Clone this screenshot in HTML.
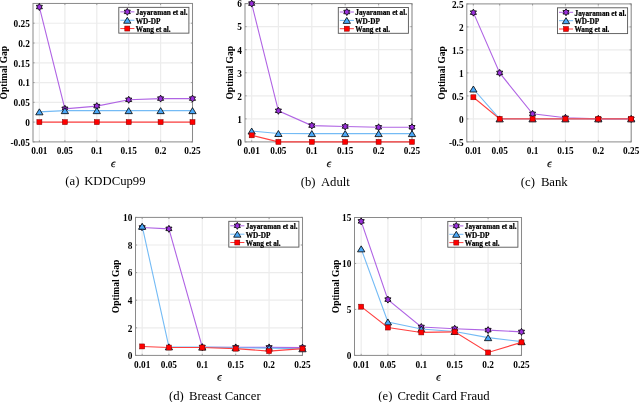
<!DOCTYPE html>
<html><head><meta charset="utf-8"><style>
html,body{margin:0;padding:0;background:#fff;}
body{width:640px;height:402px;overflow:hidden;}
svg{display:block;will-change:transform;}
text{font-family:"Liberation Serif",serif;fill:#000;}
.tk{font-size:9.3px;font-weight:bold;}
.lg{font-size:7.25px;font-weight:bold;stroke:#000;stroke-width:0.22px;}
.yl{font-size:9.5px;font-weight:bold;}
.eps{font-size:11px;font-style:italic;}
.cap{font-size:12.7px;}
</style></head><body>
<svg width="640" height="402" viewBox="0 0 640 402">
<rect width="640" height="402" fill="#fff"/>
<line x1="39.38" y1="3.45" x2="39.38" y2="141.9" stroke="#ececec" stroke-width="1.2"/>
<line x1="64.9" y1="3.45" x2="64.9" y2="141.9" stroke="#ececec" stroke-width="1.2"/>
<line x1="96.8" y1="3.45" x2="96.8" y2="141.9" stroke="#ececec" stroke-width="1.2"/>
<line x1="128.7" y1="3.45" x2="128.7" y2="141.9" stroke="#ececec" stroke-width="1.2"/>
<line x1="160.6" y1="3.45" x2="160.6" y2="141.9" stroke="#ececec" stroke-width="1.2"/>
<line x1="192.5" y1="3.45" x2="192.5" y2="141.9" stroke="#ececec" stroke-width="1.2"/>
<line x1="33" y1="122.12" x2="192.5" y2="122.12" stroke="#ececec" stroke-width="1.2"/>
<line x1="33" y1="102.34" x2="192.5" y2="102.34" stroke="#ececec" stroke-width="1.2"/>
<line x1="33" y1="82.56" x2="192.5" y2="82.56" stroke="#ececec" stroke-width="1.2"/>
<line x1="33" y1="62.79" x2="192.5" y2="62.79" stroke="#ececec" stroke-width="1.2"/>
<line x1="33" y1="43.01" x2="192.5" y2="43.01" stroke="#ececec" stroke-width="1.2"/>
<line x1="33" y1="23.23" x2="192.5" y2="23.23" stroke="#ececec" stroke-width="1.2"/>
<rect x="33" y="3.45" width="159.5" height="138.45" fill="none" stroke="#8a8a8a" stroke-width="1"/>
<path d="M39.38 141.9v-1.6M39.38 3.45v1.6" stroke="#8a8a8a" stroke-width="0.8"/>
<path d="M64.9 141.9v-1.6M64.9 3.45v1.6" stroke="#8a8a8a" stroke-width="0.8"/>
<path d="M96.8 141.9v-1.6M96.8 3.45v1.6" stroke="#8a8a8a" stroke-width="0.8"/>
<path d="M128.7 141.9v-1.6M128.7 3.45v1.6" stroke="#8a8a8a" stroke-width="0.8"/>
<path d="M160.6 141.9v-1.6M160.6 3.45v1.6" stroke="#8a8a8a" stroke-width="0.8"/>
<path d="M192.5 141.9v-1.6M192.5 3.45v1.6" stroke="#8a8a8a" stroke-width="0.8"/>
<path d="M33 141.9h1.6M192.5 141.9h-1.6" stroke="#8a8a8a" stroke-width="0.8"/>
<path d="M33 122.12h1.6M192.5 122.12h-1.6" stroke="#8a8a8a" stroke-width="0.8"/>
<path d="M33 102.34h1.6M192.5 102.34h-1.6" stroke="#8a8a8a" stroke-width="0.8"/>
<path d="M33 82.56h1.6M192.5 82.56h-1.6" stroke="#8a8a8a" stroke-width="0.8"/>
<path d="M33 62.79h1.6M192.5 62.79h-1.6" stroke="#8a8a8a" stroke-width="0.8"/>
<path d="M33 43.01h1.6M192.5 43.01h-1.6" stroke="#8a8a8a" stroke-width="0.8"/>
<path d="M33 23.23h1.6M192.5 23.23h-1.6" stroke="#8a8a8a" stroke-width="0.8"/>
<polyline points="39.38,7.01 64.9,108.79 96.8,106.1 128.7,99.77 160.6,98.62 192.5,98.62" fill="none" stroke="#b064e4" stroke-width="1.1"/>
<polygon points="39.38,3.51 40.39,5.26 42.41,5.26 41.4,7.01 42.41,8.76 40.39,8.76 39.38,10.51 38.37,8.76 36.35,8.76 37.36,7.01 36.35,5.26 38.37,5.26" fill="#9a2fdc" stroke="#000" stroke-width="0.85" stroke-linejoin="miter"/>
<polygon points="64.9,105.29 65.91,107.04 67.93,107.04 66.92,108.79 67.93,110.54 65.91,110.54 64.9,112.29 63.89,110.54 61.87,110.54 62.88,108.79 61.87,107.04 63.89,107.04" fill="#9a2fdc" stroke="#000" stroke-width="0.85" stroke-linejoin="miter"/>
<polygon points="96.8,102.6 97.81,104.35 99.83,104.35 98.82,106.1 99.83,107.85 97.81,107.85 96.8,109.6 95.79,107.85 93.77,107.85 94.78,106.1 93.77,104.35 95.79,104.35" fill="#9a2fdc" stroke="#000" stroke-width="0.85" stroke-linejoin="miter"/>
<polygon points="128.7,96.27 129.71,98.02 131.73,98.02 130.72,99.77 131.73,101.52 129.71,101.52 128.7,103.27 127.69,101.52 125.67,101.52 126.68,99.77 125.67,98.02 127.69,98.02" fill="#9a2fdc" stroke="#000" stroke-width="0.85" stroke-linejoin="miter"/>
<polygon points="160.6,95.12 161.61,96.87 163.63,96.87 162.62,98.62 163.63,100.37 161.61,100.37 160.6,102.12 159.59,100.37 157.57,100.37 158.58,98.62 157.57,96.87 159.59,96.87" fill="#9a2fdc" stroke="#000" stroke-width="0.85" stroke-linejoin="miter"/>
<polygon points="192.5,95.12 193.51,96.87 195.53,96.87 194.52,98.62 195.53,100.37 193.51,100.37 192.5,102.12 191.49,100.37 189.47,100.37 190.48,98.62 189.47,96.87 191.49,96.87" fill="#9a2fdc" stroke="#000" stroke-width="0.85" stroke-linejoin="miter"/>
<polyline points="39.38,111.84 64.9,110.65 96.8,110.65 128.7,110.65 160.6,110.65 192.5,110.65" fill="none" stroke="#74bbf5" stroke-width="1.1"/>
<polygon points="39.38,108.84 43.03,114.84 35.73,114.84" fill="#4aa8f8" stroke="#000" stroke-width="0.8" stroke-linejoin="miter"/>
<polygon points="64.9,107.65 68.55,113.65 61.25,113.65" fill="#4aa8f8" stroke="#000" stroke-width="0.8" stroke-linejoin="miter"/>
<polygon points="96.8,107.65 100.45,113.65 93.15,113.65" fill="#4aa8f8" stroke="#000" stroke-width="0.8" stroke-linejoin="miter"/>
<polygon points="128.7,107.65 132.35,113.65 125.05,113.65" fill="#4aa8f8" stroke="#000" stroke-width="0.8" stroke-linejoin="miter"/>
<polygon points="160.6,107.65 164.25,113.65 156.95,113.65" fill="#4aa8f8" stroke="#000" stroke-width="0.8" stroke-linejoin="miter"/>
<polygon points="192.5,107.65 196.15,113.65 188.85,113.65" fill="#4aa8f8" stroke="#000" stroke-width="0.8" stroke-linejoin="miter"/>
<polyline points="39.38,122.12 64.9,122.12 96.8,122.12 128.7,122.12 160.6,122.12 192.5,122.12" fill="none" stroke="#ff4040" stroke-width="1.1"/>
<rect x="36.88" y="119.62" width="5" height="5" fill="#ff0000" stroke="#7a0000" stroke-width="0.5"/>
<rect x="62.4" y="119.62" width="5" height="5" fill="#ff0000" stroke="#7a0000" stroke-width="0.5"/>
<rect x="94.3" y="119.62" width="5" height="5" fill="#ff0000" stroke="#7a0000" stroke-width="0.5"/>
<rect x="126.2" y="119.62" width="5" height="5" fill="#ff0000" stroke="#7a0000" stroke-width="0.5"/>
<rect x="158.1" y="119.62" width="5" height="5" fill="#ff0000" stroke="#7a0000" stroke-width="0.5"/>
<rect x="190" y="119.62" width="5" height="5" fill="#ff0000" stroke="#7a0000" stroke-width="0.5"/>
<text x="39.38" y="154.1" class="tk" text-anchor="middle">0.01</text>
<text x="64.9" y="154.1" class="tk" text-anchor="middle">0.05</text>
<text x="96.8" y="154.1" class="tk" text-anchor="middle">0.1</text>
<text x="128.7" y="154.1" class="tk" text-anchor="middle">0.15</text>
<text x="160.6" y="154.1" class="tk" text-anchor="middle">0.2</text>
<text x="192.5" y="154.1" class="tk" text-anchor="middle">0.25</text>
<text x="29.8" y="145.7" class="tk" text-anchor="end">-0.05</text>
<text x="29.8" y="125.92" class="tk" text-anchor="end">0</text>
<text x="29.8" y="106.14" class="tk" text-anchor="end">0.05</text>
<text x="29.8" y="86.36" class="tk" text-anchor="end">0.1</text>
<text x="29.8" y="66.59" class="tk" text-anchor="end">0.15</text>
<text x="29.8" y="46.81" class="tk" text-anchor="end">0.2</text>
<text x="29.8" y="27.03" class="tk" text-anchor="end">0.25</text>
<rect x="118.8" y="7.35" width="70.1" height="25.8" fill="#fff" stroke="#555" stroke-width="0.9"/>
<line x1="120.3" y1="11.85" x2="134.4" y2="11.85" stroke="#b064e4" stroke-width="1"/>
<polygon points="127.3,8.35 128.31,10.1 130.33,10.1 129.32,11.85 130.33,13.6 128.31,13.6 127.3,15.35 126.29,13.6 124.27,13.6 125.28,11.85 124.27,10.1 126.29,10.1" fill="#9a2fdc" stroke="#000" stroke-width="0.85" stroke-linejoin="miter"/>
<text x="135.8" y="15.15" class="lg">Jayaraman et al.</text>
<line x1="120.3" y1="20.25" x2="134.4" y2="20.25" stroke="#74bbf5" stroke-width="1"/>
<polygon points="127.3,17.25 130.95,23.25 123.65,23.25" fill="#4aa8f8" stroke="#000" stroke-width="0.8" stroke-linejoin="miter"/>
<text x="135.8" y="23.55" class="lg">WD-DP</text>
<line x1="120.3" y1="28.55" x2="134.4" y2="28.55" stroke="#ff4040" stroke-width="1"/>
<rect x="124.8" y="26.05" width="5" height="5" fill="#ff0000" stroke="#7a0000" stroke-width="0.5"/>
<text x="135.8" y="31.85" class="lg">Wang et al.</text>
<text transform="translate(6.6 72.67) rotate(-90)" class="yl" text-anchor="middle">Optimal Gap</text>
<path transform="translate(110.85 161.2)" d="M5.0,0.8C3.2,-0.3 0.3,1.0 0.2,3.9C0.1,5.9 2.4,6.6 4.3,5.5L4.1,5.1C2.8,5.8 1.4,5.3 1.5,3.9C1.6,1.9 3.3,0.8 4.8,1.3Z M1.45,3.0L4.2,3.0L4.1,3.6L1.45,3.6Z" fill="#1a1a1a"/>
<text x="65.3" y="185.4" class="cap">(a)</text>
<text x="84.2" y="185.4" class="cap">KDDCup99</text>
<line x1="251.68" y1="3.6" x2="251.68" y2="141.9" stroke="#ececec" stroke-width="1.2"/>
<line x1="278.4" y1="3.6" x2="278.4" y2="141.9" stroke="#ececec" stroke-width="1.2"/>
<line x1="311.8" y1="3.6" x2="311.8" y2="141.9" stroke="#ececec" stroke-width="1.2"/>
<line x1="345.2" y1="3.6" x2="345.2" y2="141.9" stroke="#ececec" stroke-width="1.2"/>
<line x1="378.6" y1="3.6" x2="378.6" y2="141.9" stroke="#ececec" stroke-width="1.2"/>
<line x1="412" y1="3.6" x2="412" y2="141.9" stroke="#ececec" stroke-width="1.2"/>
<line x1="245" y1="118.85" x2="412" y2="118.85" stroke="#ececec" stroke-width="1.2"/>
<line x1="245" y1="95.8" x2="412" y2="95.8" stroke="#ececec" stroke-width="1.2"/>
<line x1="245" y1="72.75" x2="412" y2="72.75" stroke="#ececec" stroke-width="1.2"/>
<line x1="245" y1="49.7" x2="412" y2="49.7" stroke="#ececec" stroke-width="1.2"/>
<line x1="245" y1="26.65" x2="412" y2="26.65" stroke="#ececec" stroke-width="1.2"/>
<rect x="245" y="3.6" width="167" height="138.3" fill="none" stroke="#8a8a8a" stroke-width="1"/>
<path d="M251.68 141.9v-1.6M251.68 3.6v1.6" stroke="#8a8a8a" stroke-width="0.8"/>
<path d="M278.4 141.9v-1.6M278.4 3.6v1.6" stroke="#8a8a8a" stroke-width="0.8"/>
<path d="M311.8 141.9v-1.6M311.8 3.6v1.6" stroke="#8a8a8a" stroke-width="0.8"/>
<path d="M345.2 141.9v-1.6M345.2 3.6v1.6" stroke="#8a8a8a" stroke-width="0.8"/>
<path d="M378.6 141.9v-1.6M378.6 3.6v1.6" stroke="#8a8a8a" stroke-width="0.8"/>
<path d="M412 141.9v-1.6M412 3.6v1.6" stroke="#8a8a8a" stroke-width="0.8"/>
<path d="M245 141.9h1.6M412 141.9h-1.6" stroke="#8a8a8a" stroke-width="0.8"/>
<path d="M245 118.85h1.6M412 118.85h-1.6" stroke="#8a8a8a" stroke-width="0.8"/>
<path d="M245 95.8h1.6M412 95.8h-1.6" stroke="#8a8a8a" stroke-width="0.8"/>
<path d="M245 72.75h1.6M412 72.75h-1.6" stroke="#8a8a8a" stroke-width="0.8"/>
<path d="M245 49.7h1.6M412 49.7h-1.6" stroke="#8a8a8a" stroke-width="0.8"/>
<path d="M245 26.65h1.6M412 26.65h-1.6" stroke="#8a8a8a" stroke-width="0.8"/>
<path d="M245 3.6h1.6M412 3.6h-1.6" stroke="#8a8a8a" stroke-width="0.8"/>
<polyline points="251.68,3.6 278.4,110.78 311.8,125.6 345.2,126.5 378.6,127.31 412,127.26" fill="none" stroke="#b064e4" stroke-width="1.1"/>
<polygon points="251.68,0.1 252.69,1.85 254.71,1.85 253.7,3.6 254.71,5.35 252.69,5.35 251.68,7.1 250.67,5.35 248.65,5.35 249.66,3.6 248.65,1.85 250.67,1.85" fill="#9a2fdc" stroke="#000" stroke-width="0.85" stroke-linejoin="miter"/>
<polygon points="278.4,107.28 279.41,109.03 281.43,109.03 280.42,110.78 281.43,112.53 279.41,112.53 278.4,114.28 277.39,112.53 275.37,112.53 276.38,110.78 275.37,109.03 277.39,109.03" fill="#9a2fdc" stroke="#000" stroke-width="0.85" stroke-linejoin="miter"/>
<polygon points="311.8,122.1 312.81,123.85 314.83,123.85 313.82,125.6 314.83,127.35 312.81,127.35 311.8,129.1 310.79,127.35 308.77,127.35 309.78,125.6 308.77,123.85 310.79,123.85" fill="#9a2fdc" stroke="#000" stroke-width="0.85" stroke-linejoin="miter"/>
<polygon points="345.2,123 346.21,124.75 348.23,124.75 347.22,126.5 348.23,128.25 346.21,128.25 345.2,130 344.19,128.25 342.17,128.25 343.18,126.5 342.17,124.75 344.19,124.75" fill="#9a2fdc" stroke="#000" stroke-width="0.85" stroke-linejoin="miter"/>
<polygon points="378.6,123.81 379.61,125.56 381.63,125.56 380.62,127.31 381.63,129.06 379.61,129.06 378.6,130.81 377.59,129.06 375.57,129.06 376.58,127.31 375.57,125.56 377.59,125.56" fill="#9a2fdc" stroke="#000" stroke-width="0.85" stroke-linejoin="miter"/>
<polygon points="412,123.76 413.01,125.51 415.03,125.51 414.02,127.26 415.03,129.01 413.01,129.01 412,130.76 410.99,129.01 408.97,129.01 409.98,127.26 408.97,125.51 410.99,125.51" fill="#9a2fdc" stroke="#000" stroke-width="0.85" stroke-linejoin="miter"/>
<polyline points="251.68,131.07 278.4,133.51 311.8,133.6 345.2,133.6 378.6,133.6 412,133.6" fill="none" stroke="#74bbf5" stroke-width="1.1"/>
<polygon points="251.68,128.07 255.33,134.07 248.03,134.07" fill="#4aa8f8" stroke="#000" stroke-width="0.8" stroke-linejoin="miter"/>
<polygon points="278.4,130.51 282.05,136.51 274.75,136.51" fill="#4aa8f8" stroke="#000" stroke-width="0.8" stroke-linejoin="miter"/>
<polygon points="311.8,130.6 315.45,136.6 308.15,136.6" fill="#4aa8f8" stroke="#000" stroke-width="0.8" stroke-linejoin="miter"/>
<polygon points="345.2,130.6 348.85,136.6 341.55,136.6" fill="#4aa8f8" stroke="#000" stroke-width="0.8" stroke-linejoin="miter"/>
<polygon points="378.6,130.6 382.25,136.6 374.95,136.6" fill="#4aa8f8" stroke="#000" stroke-width="0.8" stroke-linejoin="miter"/>
<polygon points="412,130.6 415.65,136.6 408.35,136.6" fill="#4aa8f8" stroke="#000" stroke-width="0.8" stroke-linejoin="miter"/>
<polyline points="251.68,135.31 278.4,141.9 311.8,141.9 345.2,141.9 378.6,141.9 412,141.9" fill="none" stroke="#ff4040" stroke-width="1.1"/>
<rect x="249.18" y="132.81" width="5" height="5" fill="#ff0000" stroke="#7a0000" stroke-width="0.5"/>
<rect x="275.9" y="139.4" width="5" height="5" fill="#ff0000" stroke="#7a0000" stroke-width="0.5"/>
<rect x="309.3" y="139.4" width="5" height="5" fill="#ff0000" stroke="#7a0000" stroke-width="0.5"/>
<rect x="342.7" y="139.4" width="5" height="5" fill="#ff0000" stroke="#7a0000" stroke-width="0.5"/>
<rect x="376.1" y="139.4" width="5" height="5" fill="#ff0000" stroke="#7a0000" stroke-width="0.5"/>
<rect x="409.5" y="139.4" width="5" height="5" fill="#ff0000" stroke="#7a0000" stroke-width="0.5"/>
<text x="251.68" y="154.1" class="tk" text-anchor="middle">0.01</text>
<text x="278.4" y="154.1" class="tk" text-anchor="middle">0.05</text>
<text x="311.8" y="154.1" class="tk" text-anchor="middle">0.1</text>
<text x="345.2" y="154.1" class="tk" text-anchor="middle">0.15</text>
<text x="378.6" y="154.1" class="tk" text-anchor="middle">0.2</text>
<text x="412" y="154.1" class="tk" text-anchor="middle">0.25</text>
<text x="241.8" y="145.7" class="tk" text-anchor="end">0</text>
<text x="241.8" y="122.65" class="tk" text-anchor="end">1</text>
<text x="241.8" y="99.6" class="tk" text-anchor="end">2</text>
<text x="241.8" y="76.55" class="tk" text-anchor="end">3</text>
<text x="241.8" y="53.5" class="tk" text-anchor="end">4</text>
<text x="241.8" y="30.45" class="tk" text-anchor="end">5</text>
<text x="241.8" y="7.4" class="tk" text-anchor="end">6</text>
<rect x="338.3" y="7.5" width="70.1" height="25.8" fill="#fff" stroke="#555" stroke-width="0.9"/>
<line x1="339.8" y1="12" x2="353.9" y2="12" stroke="#b064e4" stroke-width="1"/>
<polygon points="346.8,8.5 347.81,10.25 349.83,10.25 348.82,12 349.83,13.75 347.81,13.75 346.8,15.5 345.79,13.75 343.77,13.75 344.78,12 343.77,10.25 345.79,10.25" fill="#9a2fdc" stroke="#000" stroke-width="0.85" stroke-linejoin="miter"/>
<text x="355.3" y="15.3" class="lg">Jayaraman et al.</text>
<line x1="339.8" y1="20.4" x2="353.9" y2="20.4" stroke="#74bbf5" stroke-width="1"/>
<polygon points="346.8,17.4 350.45,23.4 343.15,23.4" fill="#4aa8f8" stroke="#000" stroke-width="0.8" stroke-linejoin="miter"/>
<text x="355.3" y="23.7" class="lg">WD-DP</text>
<line x1="339.8" y1="28.7" x2="353.9" y2="28.7" stroke="#ff4040" stroke-width="1"/>
<rect x="344.3" y="26.2" width="5" height="5" fill="#ff0000" stroke="#7a0000" stroke-width="0.5"/>
<text x="355.3" y="32" class="lg">Wang et al.</text>
<text transform="translate(233.1 72.75) rotate(-90)" class="yl" text-anchor="middle">Optimal Gap</text>
<path transform="translate(326.6 161.2)" d="M5.0,0.8C3.2,-0.3 0.3,1.0 0.2,3.9C0.1,5.9 2.4,6.6 4.3,5.5L4.1,5.1C2.8,5.8 1.4,5.3 1.5,3.9C1.6,1.9 3.3,0.8 4.8,1.3Z M1.45,3.0L4.2,3.0L4.1,3.6L1.45,3.6Z" fill="#1a1a1a"/>
<text x="300.8" y="185.6" class="cap">(b)</text>
<text x="320.9" y="185.6" class="cap">Adult</text>
<line x1="473.38" y1="3.9" x2="473.38" y2="141.9" stroke="#ececec" stroke-width="1.2"/>
<line x1="499.68" y1="3.9" x2="499.68" y2="141.9" stroke="#ececec" stroke-width="1.2"/>
<line x1="532.56" y1="3.9" x2="532.56" y2="141.9" stroke="#ececec" stroke-width="1.2"/>
<line x1="565.44" y1="3.9" x2="565.44" y2="141.9" stroke="#ececec" stroke-width="1.2"/>
<line x1="598.32" y1="3.9" x2="598.32" y2="141.9" stroke="#ececec" stroke-width="1.2"/>
<line x1="631.2" y1="3.9" x2="631.2" y2="141.9" stroke="#ececec" stroke-width="1.2"/>
<line x1="466.8" y1="118.9" x2="631.2" y2="118.9" stroke="#ececec" stroke-width="1.2"/>
<line x1="466.8" y1="95.9" x2="631.2" y2="95.9" stroke="#ececec" stroke-width="1.2"/>
<line x1="466.8" y1="72.9" x2="631.2" y2="72.9" stroke="#ececec" stroke-width="1.2"/>
<line x1="466.8" y1="49.9" x2="631.2" y2="49.9" stroke="#ececec" stroke-width="1.2"/>
<line x1="466.8" y1="26.9" x2="631.2" y2="26.9" stroke="#ececec" stroke-width="1.2"/>
<rect x="466.8" y="3.9" width="164.4" height="138" fill="none" stroke="#8a8a8a" stroke-width="1"/>
<path d="M473.38 141.9v-1.6M473.38 3.9v1.6" stroke="#8a8a8a" stroke-width="0.8"/>
<path d="M499.68 141.9v-1.6M499.68 3.9v1.6" stroke="#8a8a8a" stroke-width="0.8"/>
<path d="M532.56 141.9v-1.6M532.56 3.9v1.6" stroke="#8a8a8a" stroke-width="0.8"/>
<path d="M565.44 141.9v-1.6M565.44 3.9v1.6" stroke="#8a8a8a" stroke-width="0.8"/>
<path d="M598.32 141.9v-1.6M598.32 3.9v1.6" stroke="#8a8a8a" stroke-width="0.8"/>
<path d="M631.2 141.9v-1.6M631.2 3.9v1.6" stroke="#8a8a8a" stroke-width="0.8"/>
<path d="M466.8 141.9h1.6M631.2 141.9h-1.6" stroke="#8a8a8a" stroke-width="0.8"/>
<path d="M466.8 118.9h1.6M631.2 118.9h-1.6" stroke="#8a8a8a" stroke-width="0.8"/>
<path d="M466.8 95.9h1.6M631.2 95.9h-1.6" stroke="#8a8a8a" stroke-width="0.8"/>
<path d="M466.8 72.9h1.6M631.2 72.9h-1.6" stroke="#8a8a8a" stroke-width="0.8"/>
<path d="M466.8 49.9h1.6M631.2 49.9h-1.6" stroke="#8a8a8a" stroke-width="0.8"/>
<path d="M466.8 26.9h1.6M631.2 26.9h-1.6" stroke="#8a8a8a" stroke-width="0.8"/>
<path d="M466.8 3.9h1.6M631.2 3.9h-1.6" stroke="#8a8a8a" stroke-width="0.8"/>
<polyline points="473.38,12.64 499.68,72.9 532.56,113.84 565.44,117.8 598.32,118.9 631.2,118.9" fill="none" stroke="#b064e4" stroke-width="1.1"/>
<polygon points="473.38,9.14 474.39,10.89 476.41,10.89 475.4,12.64 476.41,14.39 474.39,14.39 473.38,16.14 472.37,14.39 470.34,14.39 471.36,12.64 470.34,10.89 472.37,10.89" fill="#9a2fdc" stroke="#000" stroke-width="0.85" stroke-linejoin="miter"/>
<polygon points="499.68,69.4 500.69,71.15 502.71,71.15 501.7,72.9 502.71,74.65 500.69,74.65 499.68,76.4 498.67,74.65 496.65,74.65 497.66,72.9 496.65,71.15 498.67,71.15" fill="#9a2fdc" stroke="#000" stroke-width="0.85" stroke-linejoin="miter"/>
<polygon points="532.56,110.34 533.57,112.09 535.59,112.09 534.58,113.84 535.59,115.59 533.57,115.59 532.56,117.34 531.55,115.59 529.53,115.59 530.54,113.84 529.53,112.09 531.55,112.09" fill="#9a2fdc" stroke="#000" stroke-width="0.85" stroke-linejoin="miter"/>
<polygon points="565.44,114.3 566.45,116.05 568.47,116.05 567.46,117.8 568.47,119.55 566.45,119.55 565.44,121.3 564.43,119.55 562.41,119.55 563.42,117.8 562.41,116.05 564.43,116.05" fill="#9a2fdc" stroke="#000" stroke-width="0.85" stroke-linejoin="miter"/>
<polygon points="598.32,115.4 599.33,117.15 601.35,117.15 600.34,118.9 601.35,120.65 599.33,120.65 598.32,122.4 597.31,120.65 595.29,120.65 596.3,118.9 595.29,117.15 597.31,117.15" fill="#9a2fdc" stroke="#000" stroke-width="0.85" stroke-linejoin="miter"/>
<polygon points="631.2,115.4 632.21,117.15 634.23,117.15 633.22,118.9 634.23,120.65 632.21,120.65 631.2,122.4 630.19,120.65 628.17,120.65 629.18,118.9 628.17,117.15 630.19,117.15" fill="#9a2fdc" stroke="#000" stroke-width="0.85" stroke-linejoin="miter"/>
<polyline points="473.38,89 499.68,118.9 532.56,118.9 565.44,118.9 598.32,118.9 631.2,118.9" fill="none" stroke="#74bbf5" stroke-width="1.1"/>
<polygon points="473.38,86 477.03,92 469.73,92" fill="#4aa8f8" stroke="#000" stroke-width="0.8" stroke-linejoin="miter"/>
<polygon points="499.68,115.9 503.33,121.9 496.03,121.9" fill="#4aa8f8" stroke="#000" stroke-width="0.8" stroke-linejoin="miter"/>
<polygon points="532.56,115.9 536.21,121.9 528.91,121.9" fill="#4aa8f8" stroke="#000" stroke-width="0.8" stroke-linejoin="miter"/>
<polygon points="565.44,115.9 569.09,121.9 561.79,121.9" fill="#4aa8f8" stroke="#000" stroke-width="0.8" stroke-linejoin="miter"/>
<polygon points="598.32,115.9 601.97,121.9 594.67,121.9" fill="#4aa8f8" stroke="#000" stroke-width="0.8" stroke-linejoin="miter"/>
<polygon points="631.2,115.9 634.85,121.9 627.55,121.9" fill="#4aa8f8" stroke="#000" stroke-width="0.8" stroke-linejoin="miter"/>
<polyline points="473.38,97.28 499.68,118.9 532.56,118.9 565.44,118.9 598.32,118.9 631.2,118.9" fill="none" stroke="#ff4040" stroke-width="1.1"/>
<rect x="470.88" y="94.78" width="5" height="5" fill="#ff0000" stroke="#7a0000" stroke-width="0.5"/>
<rect x="497.18" y="116.4" width="5" height="5" fill="#ff0000" stroke="#7a0000" stroke-width="0.5"/>
<rect x="530.06" y="116.4" width="5" height="5" fill="#ff0000" stroke="#7a0000" stroke-width="0.5"/>
<rect x="562.94" y="116.4" width="5" height="5" fill="#ff0000" stroke="#7a0000" stroke-width="0.5"/>
<rect x="595.82" y="116.4" width="5" height="5" fill="#ff0000" stroke="#7a0000" stroke-width="0.5"/>
<rect x="628.7" y="116.4" width="5" height="5" fill="#ff0000" stroke="#7a0000" stroke-width="0.5"/>
<text x="473.38" y="154.1" class="tk" text-anchor="middle">0.01</text>
<text x="499.68" y="154.1" class="tk" text-anchor="middle">0.05</text>
<text x="532.56" y="154.1" class="tk" text-anchor="middle">0.1</text>
<text x="565.44" y="154.1" class="tk" text-anchor="middle">0.15</text>
<text x="598.32" y="154.1" class="tk" text-anchor="middle">0.2</text>
<text x="631.2" y="154.1" class="tk" text-anchor="middle">0.25</text>
<text x="463.6" y="145.7" class="tk" text-anchor="end">-0.5</text>
<text x="463.6" y="122.7" class="tk" text-anchor="end">0</text>
<text x="463.6" y="99.7" class="tk" text-anchor="end">0.5</text>
<text x="463.6" y="76.7" class="tk" text-anchor="end">1</text>
<text x="463.6" y="53.7" class="tk" text-anchor="end">1.5</text>
<text x="463.6" y="30.7" class="tk" text-anchor="end">2</text>
<text x="463.6" y="7.7" class="tk" text-anchor="end">2.5</text>
<rect x="557.5" y="7.8" width="70.1" height="25.8" fill="#fff" stroke="#555" stroke-width="0.9"/>
<line x1="559" y1="12.3" x2="573.1" y2="12.3" stroke="#b064e4" stroke-width="1"/>
<polygon points="566,8.8 567.01,10.55 569.03,10.55 568.02,12.3 569.03,14.05 567.01,14.05 566,15.8 564.99,14.05 562.97,14.05 563.98,12.3 562.97,10.55 564.99,10.55" fill="#9a2fdc" stroke="#000" stroke-width="0.85" stroke-linejoin="miter"/>
<text x="574.5" y="15.6" class="lg">Jayaraman et al.</text>
<line x1="559" y1="20.7" x2="573.1" y2="20.7" stroke="#74bbf5" stroke-width="1"/>
<polygon points="566,17.7 569.65,23.7 562.35,23.7" fill="#4aa8f8" stroke="#000" stroke-width="0.8" stroke-linejoin="miter"/>
<text x="574.5" y="24" class="lg">WD-DP</text>
<line x1="559" y1="29" x2="573.1" y2="29" stroke="#ff4040" stroke-width="1"/>
<rect x="563.5" y="26.5" width="5" height="5" fill="#ff0000" stroke="#7a0000" stroke-width="0.5"/>
<text x="574.5" y="32.3" class="lg">Wang et al.</text>
<text transform="translate(445.3 72.9) rotate(-90)" class="yl" text-anchor="middle">Optimal Gap</text>
<path transform="translate(547.1 161.2)" d="M5.0,0.8C3.2,-0.3 0.3,1.0 0.2,3.9C0.1,5.9 2.4,6.6 4.3,5.5L4.1,5.1C2.8,5.8 1.4,5.3 1.5,3.9C1.6,1.9 3.3,0.8 4.8,1.3Z M1.45,3.0L4.2,3.0L4.1,3.6L1.45,3.6Z" fill="#1a1a1a"/>
<text x="520.8" y="185.6" class="cap">(c)</text>
<text x="540.9" y="185.6" class="cap">Bank</text>
<line x1="142.18" y1="217.4" x2="142.18" y2="355.4" stroke="#ececec" stroke-width="1.2"/>
<line x1="168.9" y1="217.4" x2="168.9" y2="355.4" stroke="#ececec" stroke-width="1.2"/>
<line x1="202.3" y1="217.4" x2="202.3" y2="355.4" stroke="#ececec" stroke-width="1.2"/>
<line x1="235.7" y1="217.4" x2="235.7" y2="355.4" stroke="#ececec" stroke-width="1.2"/>
<line x1="269.1" y1="217.4" x2="269.1" y2="355.4" stroke="#ececec" stroke-width="1.2"/>
<line x1="302.5" y1="217.4" x2="302.5" y2="355.4" stroke="#ececec" stroke-width="1.2"/>
<line x1="135.5" y1="327.8" x2="302.5" y2="327.8" stroke="#ececec" stroke-width="1.2"/>
<line x1="135.5" y1="300.2" x2="302.5" y2="300.2" stroke="#ececec" stroke-width="1.2"/>
<line x1="135.5" y1="272.6" x2="302.5" y2="272.6" stroke="#ececec" stroke-width="1.2"/>
<line x1="135.5" y1="245" x2="302.5" y2="245" stroke="#ececec" stroke-width="1.2"/>
<rect x="135.5" y="217.4" width="167" height="138" fill="none" stroke="#8a8a8a" stroke-width="1"/>
<path d="M142.18 355.4v-1.6M142.18 217.4v1.6" stroke="#8a8a8a" stroke-width="0.8"/>
<path d="M168.9 355.4v-1.6M168.9 217.4v1.6" stroke="#8a8a8a" stroke-width="0.8"/>
<path d="M202.3 355.4v-1.6M202.3 217.4v1.6" stroke="#8a8a8a" stroke-width="0.8"/>
<path d="M235.7 355.4v-1.6M235.7 217.4v1.6" stroke="#8a8a8a" stroke-width="0.8"/>
<path d="M269.1 355.4v-1.6M269.1 217.4v1.6" stroke="#8a8a8a" stroke-width="0.8"/>
<path d="M302.5 355.4v-1.6M302.5 217.4v1.6" stroke="#8a8a8a" stroke-width="0.8"/>
<path d="M135.5 355.4h1.6M302.5 355.4h-1.6" stroke="#8a8a8a" stroke-width="0.8"/>
<path d="M135.5 327.8h1.6M302.5 327.8h-1.6" stroke="#8a8a8a" stroke-width="0.8"/>
<path d="M135.5 300.2h1.6M302.5 300.2h-1.6" stroke="#8a8a8a" stroke-width="0.8"/>
<path d="M135.5 272.6h1.6M302.5 272.6h-1.6" stroke="#8a8a8a" stroke-width="0.8"/>
<path d="M135.5 245h1.6M302.5 245h-1.6" stroke="#8a8a8a" stroke-width="0.8"/>
<path d="M135.5 217.4h1.6M302.5 217.4h-1.6" stroke="#8a8a8a" stroke-width="0.8"/>
<polyline points="142.18,227.47 168.9,228.85 202.3,347.12 235.7,347.4 269.1,347.4 302.5,347.53" fill="none" stroke="#b064e4" stroke-width="1.1"/>
<polygon points="142.18,223.97 143.19,225.72 145.21,225.72 144.2,227.47 145.21,229.22 143.19,229.22 142.18,230.97 141.17,229.22 139.15,229.22 140.16,227.47 139.15,225.72 141.17,225.72" fill="#9a2fdc" stroke="#000" stroke-width="0.85" stroke-linejoin="miter"/>
<polygon points="168.9,225.35 169.91,227.1 171.93,227.1 170.92,228.85 171.93,230.6 169.91,230.6 168.9,232.35 167.89,230.6 165.87,230.6 166.88,228.85 165.87,227.1 167.89,227.1" fill="#9a2fdc" stroke="#000" stroke-width="0.85" stroke-linejoin="miter"/>
<polygon points="202.3,343.62 203.31,345.37 205.33,345.37 204.32,347.12 205.33,348.87 203.31,348.87 202.3,350.62 201.29,348.87 199.27,348.87 200.28,347.12 199.27,345.37 201.29,345.37" fill="#9a2fdc" stroke="#000" stroke-width="0.85" stroke-linejoin="miter"/>
<polygon points="235.7,343.9 236.71,345.65 238.73,345.65 237.72,347.4 238.73,349.15 236.71,349.15 235.7,350.9 234.69,349.15 232.67,349.15 233.68,347.4 232.67,345.65 234.69,345.65" fill="#9a2fdc" stroke="#000" stroke-width="0.85" stroke-linejoin="miter"/>
<polygon points="269.1,343.9 270.11,345.65 272.13,345.65 271.12,347.4 272.13,349.15 270.11,349.15 269.1,350.9 268.09,349.15 266.07,349.15 267.08,347.4 266.07,345.65 268.09,345.65" fill="#9a2fdc" stroke="#000" stroke-width="0.85" stroke-linejoin="miter"/>
<polygon points="302.5,344.03 303.51,345.78 305.53,345.78 304.52,347.53 305.53,349.28 303.51,349.28 302.5,351.03 301.49,349.28 299.47,349.28 300.48,347.53 299.47,345.78 301.49,345.78" fill="#9a2fdc" stroke="#000" stroke-width="0.85" stroke-linejoin="miter"/>
<polyline points="142.18,226.23 168.9,346.84 202.3,347.12 235.7,347.67 269.1,348.09 302.5,348.78" fill="none" stroke="#74bbf5" stroke-width="1.1"/>
<polygon points="142.18,223.23 145.83,229.23 138.53,229.23" fill="#4aa8f8" stroke="#000" stroke-width="0.8" stroke-linejoin="miter"/>
<polygon points="168.9,343.84 172.55,349.84 165.25,349.84" fill="#4aa8f8" stroke="#000" stroke-width="0.8" stroke-linejoin="miter"/>
<polygon points="202.3,344.12 205.95,350.12 198.65,350.12" fill="#4aa8f8" stroke="#000" stroke-width="0.8" stroke-linejoin="miter"/>
<polygon points="235.7,344.67 239.35,350.67 232.05,350.67" fill="#4aa8f8" stroke="#000" stroke-width="0.8" stroke-linejoin="miter"/>
<polygon points="269.1,345.09 272.75,351.09 265.45,351.09" fill="#4aa8f8" stroke="#000" stroke-width="0.8" stroke-linejoin="miter"/>
<polygon points="302.5,345.78 306.15,351.78 298.85,351.78" fill="#4aa8f8" stroke="#000" stroke-width="0.8" stroke-linejoin="miter"/>
<polyline points="142.18,346.43 168.9,347.53 202.3,347.53 235.7,348.64 269.1,351.12 302.5,348.64" fill="none" stroke="#ff4040" stroke-width="1.1"/>
<rect x="139.68" y="343.93" width="5" height="5" fill="#ff0000" stroke="#7a0000" stroke-width="0.5"/>
<rect x="166.4" y="345.03" width="5" height="5" fill="#ff0000" stroke="#7a0000" stroke-width="0.5"/>
<rect x="199.8" y="345.03" width="5" height="5" fill="#ff0000" stroke="#7a0000" stroke-width="0.5"/>
<rect x="233.2" y="346.14" width="5" height="5" fill="#ff0000" stroke="#7a0000" stroke-width="0.5"/>
<rect x="266.6" y="348.62" width="5" height="5" fill="#ff0000" stroke="#7a0000" stroke-width="0.5"/>
<rect x="300" y="346.14" width="5" height="5" fill="#ff0000" stroke="#7a0000" stroke-width="0.5"/>
<text x="142.18" y="367.6" class="tk" text-anchor="middle">0.01</text>
<text x="168.9" y="367.6" class="tk" text-anchor="middle">0.05</text>
<text x="202.3" y="367.6" class="tk" text-anchor="middle">0.1</text>
<text x="235.7" y="367.6" class="tk" text-anchor="middle">0.15</text>
<text x="269.1" y="367.6" class="tk" text-anchor="middle">0.2</text>
<text x="302.5" y="367.6" class="tk" text-anchor="middle">0.25</text>
<text x="132.3" y="359.2" class="tk" text-anchor="end">0</text>
<text x="132.3" y="331.6" class="tk" text-anchor="end">2</text>
<text x="132.3" y="304" class="tk" text-anchor="end">4</text>
<text x="132.3" y="276.4" class="tk" text-anchor="end">6</text>
<text x="132.3" y="248.8" class="tk" text-anchor="end">8</text>
<text x="132.3" y="221.2" class="tk" text-anchor="end">10</text>
<rect x="228.8" y="221.3" width="70.1" height="25.8" fill="#fff" stroke="#555" stroke-width="0.9"/>
<line x1="230.3" y1="225.8" x2="244.4" y2="225.8" stroke="#b064e4" stroke-width="1"/>
<polygon points="237.3,222.3 238.31,224.05 240.33,224.05 239.32,225.8 240.33,227.55 238.31,227.55 237.3,229.3 236.29,227.55 234.27,227.55 235.28,225.8 234.27,224.05 236.29,224.05" fill="#9a2fdc" stroke="#000" stroke-width="0.85" stroke-linejoin="miter"/>
<text x="245.8" y="229.1" class="lg">Jayaraman et al.</text>
<line x1="230.3" y1="234.2" x2="244.4" y2="234.2" stroke="#74bbf5" stroke-width="1"/>
<polygon points="237.3,231.2 240.95,237.2 233.65,237.2" fill="#4aa8f8" stroke="#000" stroke-width="0.8" stroke-linejoin="miter"/>
<text x="245.8" y="237.5" class="lg">WD-DP</text>
<line x1="230.3" y1="242.5" x2="244.4" y2="242.5" stroke="#ff4040" stroke-width="1"/>
<rect x="234.8" y="240" width="5" height="5" fill="#ff0000" stroke="#7a0000" stroke-width="0.5"/>
<text x="245.8" y="245.8" class="lg">Wang et al.</text>
<text transform="translate(119.4 286.4) rotate(-90)" class="yl" text-anchor="middle">Optimal Gap</text>
<path transform="translate(217.1 374.7)" d="M5.0,0.8C3.2,-0.3 0.3,1.0 0.2,3.9C0.1,5.9 2.4,6.6 4.3,5.5L4.1,5.1C2.8,5.8 1.4,5.3 1.5,3.9C1.6,1.9 3.3,0.8 4.8,1.3Z M1.45,3.0L4.2,3.0L4.1,3.6L1.45,3.6Z" fill="#1a1a1a"/>
<text x="169" y="399.8" class="cap">(d)</text>
<text x="189.1" y="399.8" class="cap">Breast Cancer</text>
<line x1="361.18" y1="217.5" x2="361.18" y2="355.4" stroke="#ececec" stroke-width="1.2"/>
<line x1="387.9" y1="217.5" x2="387.9" y2="355.4" stroke="#ececec" stroke-width="1.2"/>
<line x1="421.3" y1="217.5" x2="421.3" y2="355.4" stroke="#ececec" stroke-width="1.2"/>
<line x1="454.7" y1="217.5" x2="454.7" y2="355.4" stroke="#ececec" stroke-width="1.2"/>
<line x1="488.1" y1="217.5" x2="488.1" y2="355.4" stroke="#ececec" stroke-width="1.2"/>
<line x1="521.5" y1="217.5" x2="521.5" y2="355.4" stroke="#ececec" stroke-width="1.2"/>
<line x1="354.5" y1="309.43" x2="521.5" y2="309.43" stroke="#ececec" stroke-width="1.2"/>
<line x1="354.5" y1="263.47" x2="521.5" y2="263.47" stroke="#ececec" stroke-width="1.2"/>
<rect x="354.5" y="217.5" width="167" height="137.9" fill="none" stroke="#8a8a8a" stroke-width="1"/>
<path d="M361.18 355.4v-1.6M361.18 217.5v1.6" stroke="#8a8a8a" stroke-width="0.8"/>
<path d="M387.9 355.4v-1.6M387.9 217.5v1.6" stroke="#8a8a8a" stroke-width="0.8"/>
<path d="M421.3 355.4v-1.6M421.3 217.5v1.6" stroke="#8a8a8a" stroke-width="0.8"/>
<path d="M454.7 355.4v-1.6M454.7 217.5v1.6" stroke="#8a8a8a" stroke-width="0.8"/>
<path d="M488.1 355.4v-1.6M488.1 217.5v1.6" stroke="#8a8a8a" stroke-width="0.8"/>
<path d="M521.5 355.4v-1.6M521.5 217.5v1.6" stroke="#8a8a8a" stroke-width="0.8"/>
<path d="M354.5 355.4h1.6M521.5 355.4h-1.6" stroke="#8a8a8a" stroke-width="0.8"/>
<path d="M354.5 309.43h1.6M521.5 309.43h-1.6" stroke="#8a8a8a" stroke-width="0.8"/>
<path d="M354.5 263.47h1.6M521.5 263.47h-1.6" stroke="#8a8a8a" stroke-width="0.8"/>
<path d="M354.5 217.5h1.6M521.5 217.5h-1.6" stroke="#8a8a8a" stroke-width="0.8"/>
<polyline points="361.18,221.36 387.9,299.6 421.3,326.99 454.7,328.74 488.1,330.12 521.5,331.87" fill="none" stroke="#b064e4" stroke-width="1.1"/>
<polygon points="361.18,217.86 362.19,219.61 364.21,219.61 363.2,221.36 364.21,223.11 362.19,223.11 361.18,224.86 360.17,223.11 358.15,223.11 359.16,221.36 358.15,219.61 360.17,219.61" fill="#9a2fdc" stroke="#000" stroke-width="0.85" stroke-linejoin="miter"/>
<polygon points="387.9,296.1 388.91,297.85 390.93,297.85 389.92,299.6 390.93,301.35 388.91,301.35 387.9,303.1 386.89,301.35 384.87,301.35 385.88,299.6 384.87,297.85 386.89,297.85" fill="#9a2fdc" stroke="#000" stroke-width="0.85" stroke-linejoin="miter"/>
<polygon points="421.3,323.49 422.31,325.24 424.33,325.24 423.32,326.99 424.33,328.74 422.31,328.74 421.3,330.49 420.29,328.74 418.27,328.74 419.28,326.99 418.27,325.24 420.29,325.24" fill="#9a2fdc" stroke="#000" stroke-width="0.85" stroke-linejoin="miter"/>
<polygon points="454.7,325.24 455.71,326.99 457.73,326.99 456.72,328.74 457.73,330.49 455.71,330.49 454.7,332.24 453.69,330.49 451.67,330.49 452.68,328.74 451.67,326.99 453.69,326.99" fill="#9a2fdc" stroke="#000" stroke-width="0.85" stroke-linejoin="miter"/>
<polygon points="488.1,326.62 489.11,328.37 491.13,328.37 490.12,330.12 491.13,331.87 489.11,331.87 488.1,333.62 487.09,331.87 485.07,331.87 486.08,330.12 485.07,328.37 487.09,328.37" fill="#9a2fdc" stroke="#000" stroke-width="0.85" stroke-linejoin="miter"/>
<polygon points="521.5,328.37 522.51,330.12 524.53,330.12 523.52,331.87 524.53,333.62 522.51,333.62 521.5,335.37 520.49,333.62 518.47,333.62 519.48,331.87 518.47,330.12 520.49,330.12" fill="#9a2fdc" stroke="#000" stroke-width="0.85" stroke-linejoin="miter"/>
<polyline points="361.18,248.85 387.9,321.94 421.3,329.02 454.7,331.5 488.1,337.66 521.5,341.61" fill="none" stroke="#74bbf5" stroke-width="1.1"/>
<polygon points="361.18,245.85 364.83,251.85 357.53,251.85" fill="#4aa8f8" stroke="#000" stroke-width="0.8" stroke-linejoin="miter"/>
<polygon points="387.9,318.94 391.55,324.94 384.25,324.94" fill="#4aa8f8" stroke="#000" stroke-width="0.8" stroke-linejoin="miter"/>
<polygon points="421.3,326.02 424.95,332.02 417.65,332.02" fill="#4aa8f8" stroke="#000" stroke-width="0.8" stroke-linejoin="miter"/>
<polygon points="454.7,328.5 458.35,334.5 451.05,334.5" fill="#4aa8f8" stroke="#000" stroke-width="0.8" stroke-linejoin="miter"/>
<polygon points="488.1,334.66 491.75,340.66 484.45,340.66" fill="#4aa8f8" stroke="#000" stroke-width="0.8" stroke-linejoin="miter"/>
<polygon points="521.5,338.61 525.15,344.61 517.85,344.61" fill="#4aa8f8" stroke="#000" stroke-width="0.8" stroke-linejoin="miter"/>
<polyline points="361.18,306.68 387.9,327.54 421.3,332.42 454.7,331.87 488.1,352.46 521.5,342.35" fill="none" stroke="#ff4040" stroke-width="1.1"/>
<rect x="358.68" y="304.18" width="5" height="5" fill="#ff0000" stroke="#7a0000" stroke-width="0.5"/>
<rect x="385.4" y="325.04" width="5" height="5" fill="#ff0000" stroke="#7a0000" stroke-width="0.5"/>
<rect x="418.8" y="329.92" width="5" height="5" fill="#ff0000" stroke="#7a0000" stroke-width="0.5"/>
<rect x="452.2" y="329.37" width="5" height="5" fill="#ff0000" stroke="#7a0000" stroke-width="0.5"/>
<rect x="485.6" y="349.96" width="5" height="5" fill="#ff0000" stroke="#7a0000" stroke-width="0.5"/>
<rect x="519" y="339.85" width="5" height="5" fill="#ff0000" stroke="#7a0000" stroke-width="0.5"/>
<text x="361.18" y="367.6" class="tk" text-anchor="middle">0.01</text>
<text x="387.9" y="367.6" class="tk" text-anchor="middle">0.05</text>
<text x="421.3" y="367.6" class="tk" text-anchor="middle">0.1</text>
<text x="454.7" y="367.6" class="tk" text-anchor="middle">0.15</text>
<text x="488.1" y="367.6" class="tk" text-anchor="middle">0.2</text>
<text x="521.5" y="367.6" class="tk" text-anchor="middle">0.25</text>
<text x="351.3" y="359.2" class="tk" text-anchor="end">0</text>
<text x="351.3" y="313.23" class="tk" text-anchor="end">5</text>
<text x="351.3" y="267.27" class="tk" text-anchor="end">10</text>
<text x="351.3" y="221.3" class="tk" text-anchor="end">15</text>
<rect x="447.8" y="221.4" width="70.1" height="25.8" fill="#fff" stroke="#555" stroke-width="0.9"/>
<line x1="449.3" y1="225.9" x2="463.4" y2="225.9" stroke="#b064e4" stroke-width="1"/>
<polygon points="456.3,222.4 457.31,224.15 459.33,224.15 458.32,225.9 459.33,227.65 457.31,227.65 456.3,229.4 455.29,227.65 453.27,227.65 454.28,225.9 453.27,224.15 455.29,224.15" fill="#9a2fdc" stroke="#000" stroke-width="0.85" stroke-linejoin="miter"/>
<text x="464.8" y="229.2" class="lg">Jayaraman et al.</text>
<line x1="449.3" y1="234.3" x2="463.4" y2="234.3" stroke="#74bbf5" stroke-width="1"/>
<polygon points="456.3,231.3 459.95,237.3 452.65,237.3" fill="#4aa8f8" stroke="#000" stroke-width="0.8" stroke-linejoin="miter"/>
<text x="464.8" y="237.6" class="lg">WD-DP</text>
<line x1="449.3" y1="242.6" x2="463.4" y2="242.6" stroke="#ff4040" stroke-width="1"/>
<rect x="453.8" y="240.1" width="5" height="5" fill="#ff0000" stroke="#7a0000" stroke-width="0.5"/>
<text x="464.8" y="245.9" class="lg">Wang et al.</text>
<text transform="translate(338.6 286.45) rotate(-90)" class="yl" text-anchor="middle">Optimal Gap</text>
<path transform="translate(436.1 374.7)" d="M5.0,0.8C3.2,-0.3 0.3,1.0 0.2,3.9C0.1,5.9 2.4,6.6 4.3,5.5L4.1,5.1C2.8,5.8 1.4,5.3 1.5,3.9C1.6,1.9 3.3,0.8 4.8,1.3Z M1.45,3.0L4.2,3.0L4.1,3.6L1.45,3.6Z" fill="#1a1a1a"/>
<text x="378.3" y="399.5" class="cap">(e)</text>
<text x="397.4" y="399.5" class="cap">Credit Card Fraud</text>
</svg>
</body></html>
